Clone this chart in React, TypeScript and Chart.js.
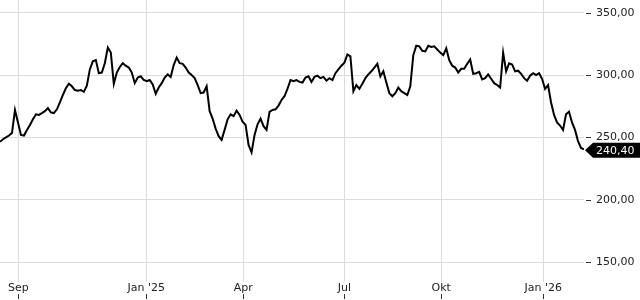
import React, { useEffect, useRef } from "react";
import { Chart, registerables } from "chart.js";

Chart.register(...registerables);

const monthLabels = ["Sep", "Jan '25", "Apr", "Jul", "Okt", "Jan '26"];
const monthPositions = [6.1, 48.85, 81.2, 115.0, 147.3, 181.4];
const yTicks = [150, 200, 250, 300, 350];

const closes = [
  246.5, 248.5, 250, 251.5, 253.5, 272, 262, 252, 251.5, 256,
  260, 264.5, 268.5, 268, 269.5, 271, 273.5, 270, 269.5, 272.5,
  278, 284, 289.5, 293, 291, 288, 287.5, 288, 286.5, 291.5,
  304.5, 311, 312, 301.5, 302, 309.5, 322, 318, 293, 302,
  306.5, 309.5, 307.5, 306, 302, 293.5, 298, 299, 296, 295,
  296, 292.5, 285, 290, 293.5, 298, 300.5, 298.5, 308, 314,
  309.5, 309, 306, 302, 300, 297.5, 292, 285.5, 286, 291,
  271, 265, 257, 251, 248, 256, 264.5, 268.5, 267, 271.5,
  268, 262.5, 260, 244, 238, 252, 260.5, 265, 259, 256,
  270.5, 272, 272.5, 275.5, 280, 283, 289, 296, 295, 296,
  294.5, 294, 298, 299, 294.5, 298.5, 299.5, 297.5, 298.5, 295.5,
  297.5, 296, 301.5, 304.5, 307.5, 310, 316.5, 315, 287, 292,
  289, 293, 297.5, 300.5, 303, 306, 309, 299, 303, 294,
  285.5, 283, 285.5, 290, 287, 285.5, 284, 291, 316, 323.5,
  323, 319.5, 319, 323.5, 322.5, 323, 320.5, 318, 316, 321.5,
  312, 307.5, 306, 302, 305, 305, 309, 312.5, 301, 301.5,
  302.5, 296.5, 297.5, 300.5, 297, 293.5, 292, 290, 318, 303,
  309.5, 308.5, 303, 303.5, 301, 297.5, 295.5, 299.5, 301.5, 300,
  301.5, 297, 289, 292, 278, 268, 262, 259.5, 256, 268.5,
  270.5, 262, 256, 247, 241.5, 240.4,
];

const fmt = (v: number) => v.toFixed(2).replace(".", ",");
const FONT = '"DejaVu Sans", sans-serif';

const decor = {
  id: "decor",
  afterDraw(chart: any) {
    const { ctx, chartArea } = chart;
    const x = chart.scales.x;
    const y = chart.scales.y;
    ctx.save();
    ctx.strokeStyle = "#333";
    ctx.lineWidth = 1;
    monthPositions.forEach((v) => {
      const px = Math.round(x.getPixelForValue(v)) + 0.5;
      ctx.beginPath();
      ctx.moveTo(px, chart.height - 6);
      ctx.lineTo(px, chart.height - 1);
      ctx.stroke();
    });
    yTicks.forEach((v) => {
      const py = Math.round(y.getPixelForValue(v)) + 0.5;
      ctx.beginPath();
      ctx.moveTo(chartArea.right + 2, py);
      ctx.lineTo(chartArea.right + 7, py);
      ctx.stroke();
    });
    const last = closes[closes.length - 1];
    const py = y.getPixelForValue(last) + 1;
    const left = chartArea.right + 1;
    const h = 15;
    ctx.fillStyle = "#000";
    ctx.beginPath();
    ctx.moveTo(left, py);
    ctx.lineTo(left + 8, py - h / 2);
    ctx.lineTo(chart.width, py - h / 2);
    ctx.lineTo(chart.width, py + h / 2);
    ctx.lineTo(left + 8, py + h / 2);
    ctx.closePath();
    ctx.fill();
    ctx.fillStyle = "#fff";
    ctx.font = "11px " + FONT;
    ctx.textBaseline = "middle";
    ctx.textAlign = "left";
    ctx.fillText(fmt(last), left + 11, py + 0.5);
    ctx.restore();
  },
};

export default function App() {
  const ref = useRef<HTMLCanvasElement>(null);
  useEffect(() => {
    document.body.style.margin = "0";
    const chart = new Chart(ref.current!, {
      type: "line",
      data: {
        datasets: [
          {
            data: closes.map((v, i) => ({ x: i, y: v })),
            borderColor: "#000",
            borderWidth: 2,
            pointRadius: 0,
            tension: 0,
            fill: false,
          },
        ],
      },
      options: {
        animation: false,
        responsive: false,
        parsing: false as any,
        layout: { padding: 0 },
        plugins: { legend: { display: false }, tooltip: { enabled: false } },
        scales: {
          x: {
            type: "linear",
            min: 0,
            max: closes.length - 1,
            offset: false,
            border: { display: false },
            grid: { color: "#dcdcdc", drawTicks: false },
            afterBuildTicks: (scale: any) => {
              scale.ticks = monthPositions.map((v) => ({ value: v }));
            },
            afterFit: (scale: any) => {
              scale.paddingLeft = 0;
              scale.paddingRight = 0;
              scale.height = 18;
            },
            ticks: {
              autoSkip: false,
              maxRotation: 0,
              padding: 0,
              color: "#222",
              font: { family: FONT, size: 11 },
              callback: (_v: any, i: number) => monthLabels[i],
            },
          },
          y: {
            type: "linear",
            position: "right",
            min: 134,
            max: 360.2,
            border: { display: false },
            grid: { color: "#dcdcdc", drawTicks: false },
            afterBuildTicks: (scale: any) => {
              scale.ticks = yTicks.map((v) => ({ value: v }));
            },
            afterFit: (scale: any) => {
              scale.paddingTop = 0;
              scale.paddingBottom = 0;
              scale.width = 56;
            },
            ticks: {
              padding: 12,
              color: "#222",
              font: { family: FONT, size: 11 },
              callback: (v: any) => fmt(Number(v)),
            },
          },
        },
      },
      plugins: [decor],
    });
    return () => chart.destroy();
  }, []);
  return (
    <div style={{ width: 640, height: 300 }}>
      <canvas ref={ref} width={640} height={300} />
    </div>
  );
}
